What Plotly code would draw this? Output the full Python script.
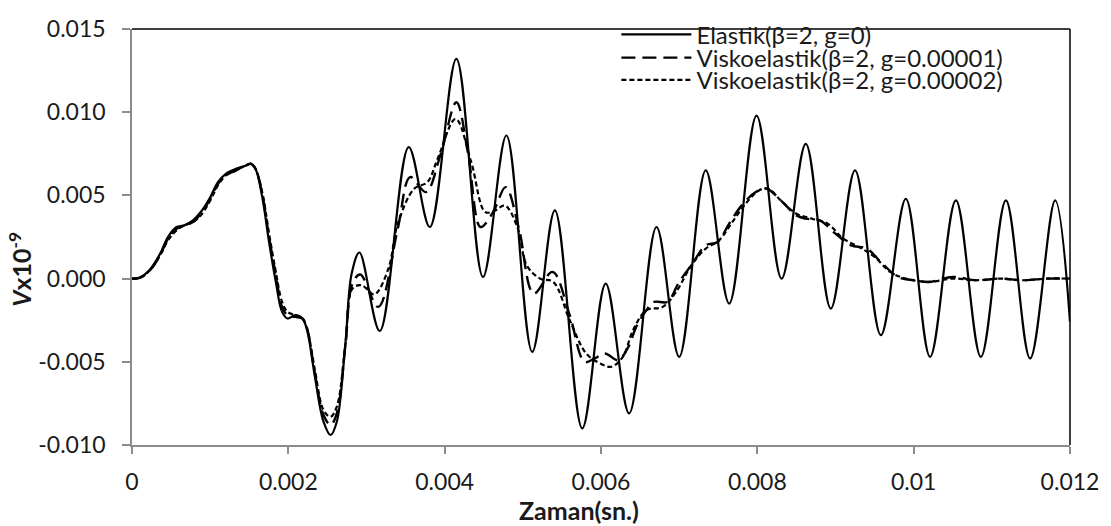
import plotly.graph_objects as go

# ---------------- data ----------------
series_names = ["Elastik(β=2, g=0)",
                "Viskoelastik(β=2, g=0.00001)",
                "Viskoelastik(β=2, g=0.00002)"]

t_elastic = [0, 0.0001, 0.00023, 0.00036, 0.00046, 0.00057, 0.00067, 0.00078, 0.00088, 0.00099,
             0.0011, 0.0012, 0.00133, 0.00146, 0.00152, 0.00158, 0.00167, 0.00175, 0.00184, 0.00192,
             0.00199, 0.00209, 0.00218, 0.00224, 0.00234, 0.00245, 0.00254, 0.00262, 0.00273, 0.00281,
             0.00291, 0.00317, 0.00354, 0.00381, 0.00415, 0.00449, 0.00479, 0.00512, 0.00541, 0.00576,
             0.00606, 0.00636, 0.00671, 0.00700, 0.00734, 0.00764, 0.00799, 0.00831, 0.00862, 0.00894,
             0.00925, 0.00958, 0.00990, 0.01021, 0.01054, 0.01086, 0.01118, 0.01149, 0.01181, 0.01200]
v_elastic = [0, 0.00006, 0.00054, 0.0015, 0.0025, 0.0031, 0.0032, 0.0035, 0.0040, 0.0048,
             0.0058, 0.0063, 0.0066, 0.0068, 0.0069, 0.0066, 0.0048, 0.0023, -0.0002, -0.0020,
             -0.0024, -0.0022, -0.0024, -0.0031, -0.0059, -0.0086, -0.0094, -0.0086, -0.0039, 0.0003,
             0.00157, -0.00315, 0.0079, 0.0031, 0.0132, 0.0001, 0.0086, -0.0044, 0.0041, -0.0090,
             -0.0003, -0.0081, 0.0031, -0.0047, 0.0065, -0.0015, 0.0098, 0.0000, 0.0081, -0.0018,
             0.0065, -0.0034, 0.0048, -0.0047, 0.0047, -0.0047, 0.0047, -0.0048, 0.0047, -0.0026]

t_visko1 = [0, 0.0001, 0.00023, 0.00036, 0.00046, 0.00057, 0.00067, 0.00078, 0.00088, 0.00099,
            0.0011, 0.0012, 0.00133, 0.00146, 0.00152, 0.00158, 0.00167, 0.00175, 0.00184, 0.00192,
            0.00199, 0.00209, 0.00218, 0.00224, 0.00234, 0.00245, 0.00254, 0.00262, 0.00273, 0.00282,
            0.00292, 0.00315, 0.00340, 0.00356, 0.00376, 0.00395, 0.00415, 0.00430, 0.00446, 0.00462,
            0.00478, 0.00495, 0.00514, 0.00538, 0.00560, 0.00579, 0.00592, 0.00605, 0.00622, 0.00635,
            0.00645, 0.00658, 0.00668, 0.00685, 0.00700, 0.00717, 0.00734, 0.00749, 0.00764, 0.00780,
            0.00798, 0.00812, 0.00830, 0.00850, 0.00862, 0.00880, 0.00900, 0.00920, 0.00940, 0.00960,
            0.00980, 0.01000, 0.01020, 0.01050, 0.01080, 0.01110, 0.01140, 0.01170, 0.01200]
v_visko1 = [0, 0.00005, 0.0005, 0.0014, 0.0024, 0.0030, 0.0032, 0.0034, 0.0039, 0.0047,
            0.0057, 0.0062, 0.0065, 0.0068, 0.0069, 0.0066, 0.0050, 0.0026, 0.0002, -0.0017,
            -0.0022, -0.0023, -0.0024, -0.0030, -0.0057, -0.0082, -0.0088, -0.0081, -0.0040, -0.0003,
            0.00025, -0.0017, 0.0030, 0.0061, 0.0052, 0.0075, 0.0106, 0.0075, 0.0031, 0.0040,
            0.0055, 0.0030, -0.0009, 0.0004, -0.0022, -0.0050, -0.0048, -0.0045, -0.0049, -0.0041,
            -0.0029, -0.0019, -0.0014, -0.0014, -0.0002, 0.0009, 0.0020, 0.0022, 0.0033, 0.0044,
            0.0052, 0.0054, 0.0047, 0.0038, 0.0036, 0.0035, 0.0027, 0.0020, 0.0018, 0.0009,
            0.0001, -0.0001, -0.0002, 0.0001, -0.0001, 0.0000, -0.0001, 0.0000, 0.0000]

t_visko2 = [0, 0.0001, 0.00023, 0.00036, 0.00046, 0.00057, 0.00067, 0.00078, 0.00088, 0.00099,
            0.0011, 0.0012, 0.00133, 0.00146, 0.00152, 0.00158, 0.00167, 0.00175, 0.00184, 0.00192,
            0.00199, 0.00209, 0.00218, 0.00224, 0.00234, 0.00245, 0.00254, 0.00262, 0.00273, 0.00282,
            0.00294, 0.00310, 0.00328, 0.00340, 0.00361, 0.00378, 0.00391, 0.00414, 0.00434, 0.00452,
            0.00465, 0.00477, 0.00493, 0.00505, 0.00522, 0.00539, 0.00560, 0.00581, 0.00599, 0.00613,
            0.00628, 0.00641, 0.00658, 0.00679, 0.00696, 0.00717, 0.00734, 0.00751, 0.00768, 0.00785,
            0.00802, 0.00814, 0.00830, 0.00850, 0.00870, 0.00890, 0.00910, 0.00930, 0.00950, 0.00970,
            0.00990, 0.01020, 0.01050, 0.01080, 0.01110, 0.01140, 0.01170, 0.01200]
v_visko2 = [0, 0.00005, 0.0005, 0.0014, 0.0023, 0.0029, 0.0032, 0.0034, 0.0038, 0.0046,
            0.0056, 0.0062, 0.0065, 0.0068, 0.0069, 0.0066, 0.0051, 0.0028, 0.0004, -0.0014,
            -0.0020, -0.0022, -0.0024, -0.0030, -0.0055, -0.0079, -0.0083, -0.0077, -0.0040, -0.0006,
            -0.0004, -0.00095, 0.0006, 0.0033, 0.0054, 0.0058, 0.0072, 0.0096, 0.0070, 0.0040,
            0.0041, 0.0044, 0.0031, 0.0008, 0.0000, -0.0002, -0.0025, -0.0045, -0.0051, -0.0053,
            -0.0047, -0.0031, -0.0019, -0.0017, -0.0008, 0.0009, 0.0018, 0.0023, 0.0034, 0.0045,
            0.0053, 0.0054, 0.0047, 0.0039, 0.0036, 0.0033, 0.0024, 0.0019, 0.0013, 0.0004,
            0.0000, -0.0002, 0.0000, -0.0001, 0.0000, -0.0001, 0.0000, 0.0000]

x_tickvals = [0, 0.002, 0.004, 0.006, 0.008, 0.010, 0.012]
x_ticktext = ["0", "0.002", "0.004", "0.006", "0.008", "0.01", "0.012"]
y_tickvals = [-0.010, -0.005, 0.000, 0.005, 0.010, 0.015]
y_ticktext = ["-0.010", "-0.005", "0.000", "0.005", "0.010", "0.015"]

x_title = "<b>Zaman(sn.)</b>"
y_title = "<b><i>V</i>x10<sup>-9</sup></b>"

# ---------------- figure ----------------
FONT = "Lato, 'Open Sans', sans-serif"
TXT = "#1a1a1a"
AXC = "#8c8c8c"

fig = go.Figure()
styles = [dict(color="black", width=2.2),
          dict(color="black", width=2.4, dash="14px,7px"),
          dict(color="black", width=2.2, dash="5px,3px")]
data = [(t_elastic, v_elastic), (t_visko1, v_visko1), (t_visko2, v_visko2)]
legends = ["legend", "legend2", "legend3"]
for (tx, vy), name, st, lg in zip(data, series_names, styles, legends):
    fig.add_trace(go.Scatter(x=tx, y=vy, name=name, mode="lines",
                             line=dict(shape="spline", smoothing=1.0, **st),
                             legend=lg))

W, H = 1111, 526
L, R, T, B = 132, 1111 - 1077, 15, 526 - 445

def leg(ypx):
    return dict(x=(620 - L) / (W - L - R), xanchor="left",
                y=(H - B - ypx) / (H - T - B), yanchor="middle",
                bgcolor="rgba(0,0,0,0)", borderwidth=0,
                font=dict(family=FONT, size=24, color=TXT),
                itemwidth=70, tracegroupgap=0)

fig.update_layout(
    width=W, height=H,
    margin=dict(l=L, r=R, t=T, b=B),
    paper_bgcolor="white", plot_bgcolor="white",
    font=dict(family=FONT, size=23, color=TXT),
    showlegend=True,
    legend=leg(21), legend2=leg(45), legend3=leg(68),
    xaxis=dict(range=[0, 0.012], tickvals=x_tickvals, ticktext=x_ticktext,
               showgrid=False, zeroline=False, showline=True, linecolor=AXC, linewidth=1.5,
               ticks="outside", ticklen=7, tickwidth=1.5, tickcolor=AXC,
               tickfont=dict(family=FONT, size=23, color=TXT), ticklabelstandoff=9),
    yaxis=dict(range=[-0.010, 0.015], tickvals=y_tickvals, ticktext=y_ticktext,
               showgrid=False, zeroline=False, showline=True, linecolor=AXC, linewidth=1.5,
               ticks="outside", ticklen=8, tickwidth=1.5, tickcolor=AXC,
               tickfont=dict(family=FONT, size=23, color=TXT), ticklabelstandoff=12),
    shapes=[
        dict(type="line", xref="paper", yref="paper", x0=0, x1=1, y0=1, y1=1,
             line=dict(color="black", width=1.5)),
        dict(type="line", xref="paper", yref="paper", x0=1, x1=1, y0=0, y1=1,
             line=dict(color="black", width=1.5)),
    ],
    annotations=[
        dict(text=x_title, xref="paper", yref="paper", x=(582 - L) / (W - L - R),
             y=(H - B - 512) / (H - T - B), xanchor="center", yanchor="middle",
             showarrow=False, font=dict(family=FONT, size=25, color=TXT)),
        dict(text=y_title, xref="paper", yref="paper", x=(20 - L) / (W - L - R),
             y=(H - B - 263) / (H - T - B), xanchor="center", yanchor="middle",
             textangle=-90, showarrow=False, font=dict(family=FONT, size=25, color=TXT)),
    ],
)

fig.write_html("out.html")
